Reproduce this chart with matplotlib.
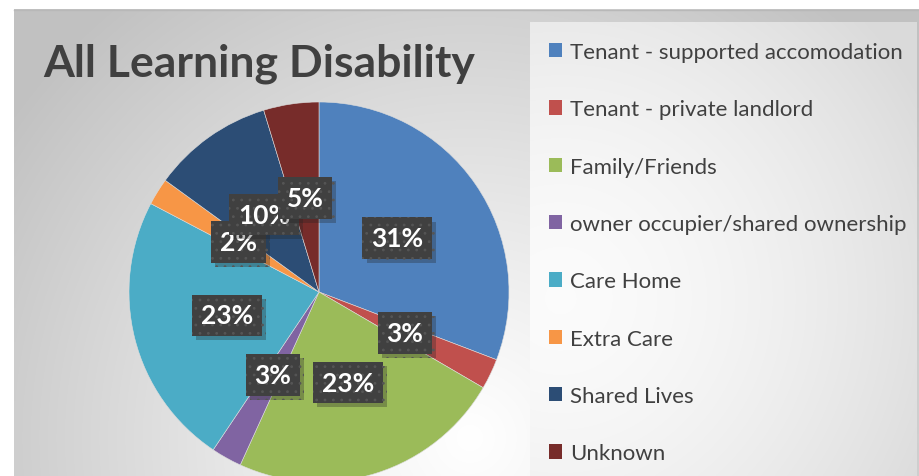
import numpy as np
import matplotlib
matplotlib.use("Agg")
import matplotlib.pyplot as plt
import matplotlib.patheffects as pe

categories = ["Tenant - supported accomodation", "Tenant - private landlord",
              "Family/Friends", "owner occupier/shared ownership", "Care Home",
              "Extra Care", "Shared Lives", "Unknown"]
shares = [30.8, 2.6, 23.4, 2.6, 23.3, 2.3, 10.3, 4.7]
colors = ["#4F81BD", "#C0504D", "#9BBB59", "#8064A2", "#4BACC6",
          "#F79646", "#2C4D75", "#772C2A"]
title = "All Learning Disability"

W, H = 919, 477
fig = plt.figure(figsize=(W / 100, H / 100), dpi=100)
fig.patch.set_facecolor("white")
FONT = "Lato"

# background gradient (chart area)
bg = fig.add_axes([14 / W, 0, (W - 14) / W, (H - 10) / H])
xs = np.linspace(14, W, 300)
ys = np.linspace(10, H, 200)
X, Y = np.meshgrid(xs, ys)
d = np.sqrt((X - 470) ** 2 + (Y - 440) ** 2) / 560.0
v = 1.0 - 0.24 * np.clip(d, 0, 1) ** 1.1
bg.imshow(np.dstack([v, v, v]), extent=(14, W, H, 10), aspect="auto",
          interpolation="bilinear")
bg.set_xlim(14, W)
bg.set_ylim(H, 10)
bg.axis("off")
fig.add_artist(plt.Line2D([14 / W, 1], [(H - 10.5) / H] * 2, color="#b8b8b8",
                          lw=1, transform=fig.transFigure))

# legend box background
lg = fig.add_axes([530 / W, 0, (W - 2 - 530) / W, (H - 23) / H])
xs2 = np.linspace(530, W - 2, 200)
ys2 = np.linspace(23, H, 200)
X2, Y2 = np.meshgrid(xs2, ys2)
d2 = np.sqrt((X2 - 560) ** 2 + (Y2 - 300) ** 2) / 420.0
v2 = 0.985 - 0.13 * np.clip(d2, 0, 1) ** 1.6
lg.imshow(np.dstack([v2, v2, v2]), extent=(530, W - 2, H, 23), aspect="auto",
          interpolation="bilinear")
lg.axis("off")

# pie
R = 190
cx, cy = 319, H - 293
ax = fig.add_axes([(cx - R) / W, (cy - R) / H, 2 * R / W, 2 * R / H])
wedges, texts, autotexts = ax.pie(
    shares, colors=colors, startangle=90, counterclock=False,
    autopct="%.0f%%", pctdistance=0.5, radius=1.0,
    wedgeprops=dict(linewidth=0.4, edgecolor="#dddddd"),
    textprops=dict(color="white", fontsize=19, fontweight="bold",
                   family=FONT))
ax.set_xlim(-1, 1)
ax.set_ylim(-1, 1)
ax.set_aspect("equal")
ax.axis("off")

plt.rcParams["hatch.linewidth"] = 0.8
for t in autotexts:
    t.set_bbox(dict(boxstyle="square,pad=0.33", facecolor="#404040",
                    edgecolor="#555555", linewidth=0, hatch=".."))
    t.get_bbox_patch().set_path_effects(
        [pe.SimplePatchShadow(offset=(3, -3), alpha=0.3, shadow_rgbFace="#222222"),
         pe.Normal()])

# title
fig.text(43 / W, (H - 76) / H, title, fontsize=32, fontweight="bold",
         color="#404040", family=FONT, va="baseline", ha="left")

# legend
leg = fig.legend(wedges, categories, loc="upper left",
                 bbox_to_anchor=(549 / W, (H - 43) / H),
                 frameon=False, prop=dict(family=FONT, size=16),
                 handlelength=0.6, handleheight=0.6, handletextpad=0.33,
                 labelspacing=1.68, borderpad=0, borderaxespad=0)
for txt in leg.get_texts():
    txt.set_color("#404040")
for h in leg.legend_handles:
    h.set_linewidth(0)

fig.savefig("out.png", dpi=100, facecolor="white")
